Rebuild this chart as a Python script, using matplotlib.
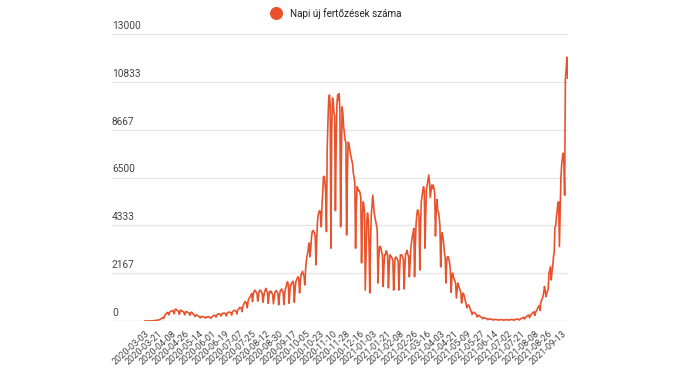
import matplotlib
matplotlib.use("Agg")
import matplotlib.pyplot as plt
from matplotlib.lines import Line2D
from matplotlib.transforms import blended_transform_factory

plt.rcParams['font.family'] = ['Roboto', 'DejaVu Sans']

# daily new infections (one row = one week)
spring_2020 = [
    2, 0, 4, 0, 0, 6, 3,
    2, 6, 13, 6, 10, 25, 15,
    18, 32, 40, 33, 44, 60, 70,
    90, 110, 130, 160, 120, 200, 290,
    310, 350, 390, 360, 280, 400, 420,
    440, 460, 480, 420, 330, 500, 540,
    520, 480, 460, 440, 300, 420, 500,
    460, 450, 420, 400, 280, 380, 430,
    420, 400, 380, 360, 260, 350, 400,
    380, 340, 300, 270, 200, 250, 280,
    260, 230, 210, 190, 140, 180, 210,
    200, 190, 180, 170, 130, 160, 190,
    180, 200, 190, 160, 120, 170, 200,
]
summer_2020 = [
    220, 250, 260, 240, 180, 260, 300,
    320, 330, 310, 300, 220, 330, 350,
    340, 360, 340, 320, 230, 350, 380,
    400, 410, 390, 370, 270, 400, 440,
    470, 490, 460, 440, 320, 480, 530,
    560, 620, 600, 580, 420, 660, 730,
    800, 880, 850, 800, 600, 900, 1000,
    1050, 1100, 1180, 1250, 880, 1200, 1330,
    1400, 1350, 1300, 1250, 900, 1150, 1350,
    1400, 1380, 1300, 1250, 850, 1100, 1300,
    1400, 1480, 1350, 1300, 800, 1150, 1350,
    1300, 1350, 1250, 1200, 780, 1050, 1300,
    1350, 1380, 1300, 1250, 730, 1100, 1350,
    1400, 1450, 1350, 1300, 750, 1200, 1450,
    1550, 1700, 1780, 1600, 800, 1300, 1650,
]
autumn_2020 = [
    1650, 1750, 1800, 1700, 850, 1400, 1780,
    1850, 1950, 2000, 1900, 1270, 1800, 2100,
    2170, 2250, 2100, 2050, 1630, 2300, 2700,
    2950, 3080, 3400, 3530, 2910, 3300, 3800,
    4050, 4100, 4050, 4000, 3800, 2540, 3700,
    4500, 4800, 4950, 5000, 4900, 4270, 5200,
    5800, 6540, 6550, 6300, 5800, 4050, 7800,
    9000, 10000, 10240, 9800, 3300, 8500, 10100,
    10000, 9420, 9300, 5000, 8000, 9800, 10240,
    10000, 10300, 9500, 4270, 7500, 9700, 9400,
    8800, 8520, 8200, 8100, 3900, 6500, 8100,
    8060, 7800, 7600, 7440, 7300, 7100, 6700,
    6500, 6250, 3300, 5200, 6080, 6000, 5900,
    5900, 5800, 5600, 2630, 4400, 5400, 5300,
]
winter_2021 = [
    4900, 1400, 3000, 4500, 4890, 4600, 3500,
    1270, 3500, 4800, 5200, 5700, 5300, 4890,
    4700, 4500, 4350, 4100, 1720, 2800, 3370,
    3370, 3300, 3100, 3000, 1560, 2500, 2990,
    3000, 3180, 3100, 2950, 1500, 2400, 3000,
    2950, 2900, 2840, 2750, 1400, 2200, 2840,
    2900, 2850, 2800, 2700, 1400, 2300, 2990,
    3000, 2990, 2900, 2800, 1450, 2400, 3050,
    3100, 3200, 3000, 2950, 2000, 2600, 3300,
    3600, 3820, 4000, 4200, 2010, 3400, 4350,
    4800, 5030, 4950, 4700, 2310, 4300, 5400,
    5630, 5900, 6080, 5900, 3300, 4800, 6000,
    6160, 6400, 6610, 6300, 5600, 5900, 6160,
    6000, 6160, 6000, 5800, 3850, 5000, 5500,
]
spring_2021 = [
    5000, 4950, 4700, 4300, 2450, 3700, 4000,
    3800, 3500, 3080, 2900, 1720, 2700, 2910,
    2910, 2800, 2600, 2300, 1300, 2000, 2170,
    2000, 1900, 1800, 1720, 1040, 1400, 1720,
    1600, 1500, 1400, 1270, 815, 1100, 1270,
    1200, 1050, 900, 800, 600, 700, 725,
    700, 600, 500, 420, 300, 380, 400,
    380, 350, 320, 280, 180, 240, 260,
    230, 200, 180, 160, 100, 130, 150,
    140, 120, 110, 100, 60, 80, 90,
    90, 85, 80, 75, 40, 60, 70,
    70, 70, 65, 60, 35, 50, 60,
]
summer_2021 = [
    60, 65, 60, 55, 30, 45, 55,
    55, 60, 60, 55, 30, 45, 60,
    65, 70, 65, 60, 35, 55, 70,
    80, 90, 85, 80, 45, 70, 95,
    110, 130, 150, 170, 90, 130, 180,
    200, 230, 260, 270, 150, 230, 300,
    330, 360, 400, 420, 250, 380, 450,
    500, 600, 650, 700, 480, 800, 950,
    1000, 1100, 1300, 1560, 1400, 1100, 1250,
]
autumn_2021 = [
    1350, 1450, 2160, 2300, 2460, 1860, 2200,
    2460, 2900, 3080, 4270, 4300, 4720, 5000,
    5350, 5400, 3370, 5000, 6500, 7070, 7400,
    7600, 7200, 5700, 10950, 11400, 11950, 11000,
]

x_labels = [
    '2020-03-03', '2020-03-21', '2020-04-08', '2020-04-26', '2020-05-14',
    '2020-06-01', '2020-06-19', '2020-07-07', '2020-07-25', '2020-08-12',
    '2020-08-30', '2020-09-17', '2020-10-05', '2020-10-23', '2020-11-10',
    '2020-11-28', '2020-12-16', '2021-01-03', '2021-01-21', '2021-02-08',
    '2021-02-26', '2021-03-16', '2021-04-03', '2021-04-21', '2021-05-09',
    '2021-05-27', '2021-06-14', '2021-07-02', '2021-07-21', '2021-08-08',
    '2021-08-26', '2021-09-13',
]
y_labels = ['0', '2167', '4333', '6500', '8667', '10833', '13000']
legend_label = 'Napi új fertőzések száma'

daily_cases = (spring_2020 + summer_2020 + autumn_2020 + winter_2021
               + spring_2021 + summer_2021 + autumn_2021)
days = list(range(len(daily_cases)))

LINE = '#e8532d'
TEXT = '#444444'

fig = plt.figure(figsize=(6.81, 3.85), dpi=100)
ax = fig.add_axes([112 / 681, 64 / 385, 456.3 / 681, 287 / 385])

ax.plot(days, daily_cases, color=LINE, lw=1.2, solid_joinstyle='round', zorder=3)
ax.set_xlim(-44.2, 566.9)
ax.set_ylim(0, 13000)

for s in ax.spines.values():
    s.set_visible(False)

# gridlines + labels sitting just above them, inside the plot area
trans = blended_transform_factory(ax.transAxes, ax.transData)
y_max = 13000
for k, lab in enumerate(y_labels):
    yv = y_max * k / (len(y_labels) - 1)
    ax.axhline(yv, color='#cccccc' if k == 0 else '#e6e6e6', lw=1, zorder=1)
    ax.annotate(lab, xy=(0, yv), xycoords=trans, xytext=(0, 3),
                textcoords='offset pixels', ha='left', va='bottom',
                fontsize=7.3, color=TEXT, annotation_clip=False)
ax.set_yticks([])

ax.set_xticks(list(range(0, 18 * len(x_labels), 18)))
ax.set_xticklabels(x_labels, rotation=42, ha='right', va='top',
                   rotation_mode='anchor', fontsize=6.6, color=TEXT)
ax.tick_params(axis='x', length=0, pad=6)

# legend on top
fig.add_artist(Line2D([276 / 681], [1 - 13 / 385], marker='o', ms=8.4,
                      color=LINE, linestyle='none', transform=fig.transFigure))
fig.text(290 / 681, 1 - 13.3 / 385, legend_label, ha='left', va='center',
         fontsize=7.1, color='#222222')

fig.savefig('out.png', dpi=100)
